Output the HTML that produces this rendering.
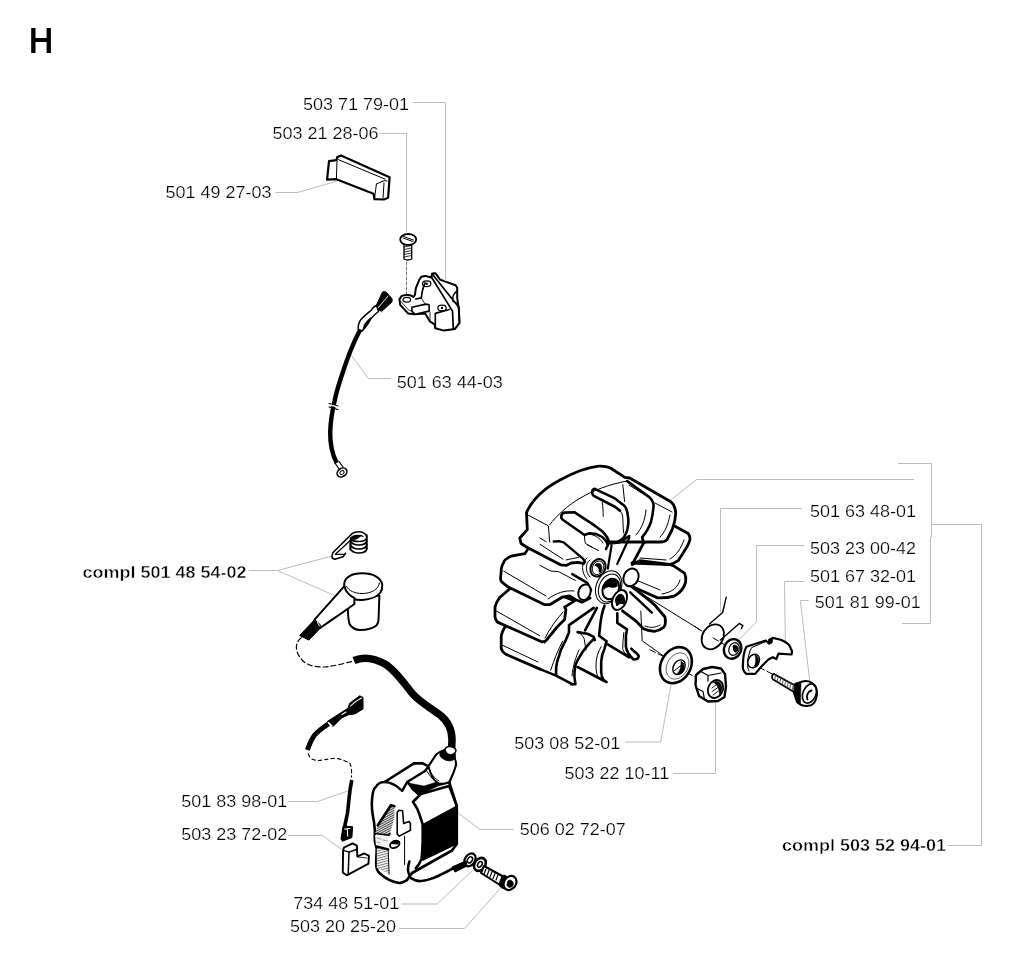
<!DOCTYPE html>
<html><head><meta charset="utf-8">
<style>
html,body{margin:0;padding:0;background:#fff;width:1024px;height:965px;overflow:hidden}
svg{position:absolute;left:0;top:0;will-change:transform}
text{font-family:"Liberation Sans",sans-serif;font-size:18px;fill:#000;stroke:#fff;stroke-width:0.25px}
.b{font-weight:bold;stroke-width:0.45px}
.ld{fill:none;stroke:#bcbcbc;stroke-width:1}
.k{fill:none;stroke:#000;stroke-width:2;stroke-linejoin:round;stroke-linecap:round}
.t{fill:none;stroke:#000;stroke-width:1;stroke-linejoin:round;stroke-linecap:round}
.f{fill:#000;stroke:#000;stroke-width:1;stroke-linejoin:round}
.w{fill:#fff;stroke:#000;stroke-width:2;stroke-linejoin:round}
</style></head><body>
<svg width="1024" height="965" viewBox="0 0 1024 965">
<defs>
<pattern id="hatch" patternUnits="userSpaceOnUse" width="2" height="2" patternTransform="rotate(62)"><rect width="2" height="2" fill="#fff"/><rect width="1.1" height="2" fill="#444"/></pattern>
<pattern id="hatch2" patternUnits="userSpaceOnUse" width="2.4" height="2.4" patternTransform="rotate(75)"><rect width="2.4" height="2.4" fill="#fff"/><rect width="1" height="2.4" fill="#777"/></pattern>
</defs>
<path d="M31.2,28.1 h4.3 v9.9 h11.1 v-9.9 h4.3 v25 h-4.3 v-11 h-11.1 v11 h-4.3 Z" fill="#000"/>
<g id="labels">
<text x="303.0" y="117.34" transform="scale(1,0.94)">503 71 79-01</text>
<text x="272.5" y="147.55" transform="scale(1,0.94)">503 21 28-06</text>
<text x="165.4" y="210.96" transform="scale(1,0.94)">501 49 27-03</text>
<text x="396.8" y="412.34" transform="scale(1,0.94)">501 63 44-03</text>
<text x="82.5" y="615.32" transform="scale(1,0.94)" class="b">compl 501 48 54-02</text>
<text x="810.0" y="549.89" transform="scale(1,0.94)">501 63 48-01</text>
<text x="810.0" y="588.94" transform="scale(1,0.94)">503 23 00-42</text>
<text x="810.0" y="618.83" transform="scale(1,0.94)">501 67 32-01</text>
<text x="814.8" y="647.13" transform="scale(1,0.94)">501 81 99-01</text>
<text x="514.3" y="796.81" transform="scale(1,0.94)">503 08 52-01</text>
<text x="564.6" y="829.04" transform="scale(1,0.94)">503 22 10-11</text>
<text x="519.7" y="888.09" transform="scale(1,0.94)">506 02 72-07</text>
<text x="181.3" y="858.51" transform="scale(1,0.94)">501 83 98-01</text>
<text x="181.3" y="894.15" transform="scale(1,0.94)">503 23 72-02</text>
<text x="293.3" y="967.34" transform="scale(1,0.94)">734 48 51-01</text>
<text x="289.9" y="991.28" transform="scale(1,0.94)">503 20 25-20</text>
<text x="782.0" y="905.74" transform="scale(1,0.94)" class="b">compl 503 52 94-01</text>
</g>
<g id="leaders" class="ld">
<polyline points="413.3,102.5 445.5,102.5 445.5,280"/>
<polyline points="379.5,133.5 406.5,133.5 406.5,232"/>
<polyline points="275.5,192.5 297.5,192.5 337.5,181"/>
<polyline points="391,378.5 368.5,378.5 351.5,355.5"/>
<polyline points="248.5,570.5 277.5,570.5 332,556"/>
<polyline points="277.5,570.5 334.5,595.5"/>
<polyline points="898,463.5 931.5,463.5 931.5,537"/><polyline points="930.5,537 930.5,623.5 902,623.5"/>
<polyline points="931,524.5 981.5,524.5 981.5,845.5 947.5,845.5"/>
<polyline points="670.8,500 696.5,479.5 914,479.5"/>
<polyline points="801.7,508.5 720.5,508.5 720.5,612.5"/>
<polyline points="804.5,545.5 756.5,545.5 756.5,621.6 739.6,639.2"/>
<polyline points="804.5,581.5 784.5,581.5 785.3,641"/>
<polyline points="808.7,600.5 800.3,600.5 810,683.2"/>
<polyline points="625,742 660.6,742 672,679.6"/>
<polyline points="672.9,773.5 715.5,773.5 715.5,700.7"/>
<polyline points="513.4,829.5 480,829.5 458.2,813"/>
<polyline points="288.2,801.5 317.4,801.5 348.1,791"/>
<polyline points="288,835.5 322.3,835.5 342.9,850.3"/>
<polyline points="401.1,904 437.2,904 473.2,869.8"/>
<polyline points="399.5,928.5 464.6,928.5 500.6,888"/>
</g>

<g id="clip">
<path class="w" style="stroke-width:2.2" d="M337.3,157 L341,155.5 L389.6,177.2 L388.1,197.7 L384,199.5 L374.5,199.2 L373.5,193.8 L336.4,179.2 L327.1,179.7 L329,161.1 L336.4,160.1 Z"/>
<path class="t" d="M338.3,159.6 L385.2,179.2 M337,161 L336.4,179 M376.4,184.1 L384.2,180.6 L387,181 M374.5,199 L376.4,184.1 M384,183 L383,198"/>
</g>
<g id="screw">
<line class="t" x1="406.5" y1="262" x2="406.5" y2="296" style="stroke:#555;stroke-dasharray:3,2;stroke-width:0.8"/>
<path class="t" style="stroke-width:1.3" d="M404,244 L404,259 Q407.5,261 411.7,259 L411.7,244"/>
<path class="t" style="stroke-width:0.8" d="M404.3,247 L411.5,245.5 M404.3,249.5 L411.5,248 M404.3,252 L411.5,250.5 M404.3,254.5 L411.5,253 M404.3,257 L411.5,255.5"/>
<ellipse class="w" style="stroke-width:1.8" cx="408.2" cy="239.5" rx="8" ry="5.5"/>
<path class="t" d="M403,238 L413,241.5 M403.5,236.5 L413.5,240"/>
</g>
<g id="module">
<path class="w" style="stroke-width:2" d="M399.4,299.4 L401.7,295.9 L406.4,294.7 L411.1,295.5 L413.4,297 L415,294.7 L415.8,288.4 L418.9,280.6 L421.3,276.7 L425.2,275.9 L431.4,277.5 L432.2,273.6 L435.3,273.2 L440,279.5 L444.7,281.4 L455.6,285.3 L457.2,287.7 L457.2,297.8 L458.8,308.8 L459.5,322.8 L454.8,329.1 L443.9,330.6 L435.3,328.3 L434.5,324.4 L429.8,321.3 L425.2,313.4 L414.2,314.2 L408,313.4 L400.2,304.8 Z"/>
<path class="t" style="stroke-width:1.7" d="M432.2,274 L458.8,307.2 L459.5,322.8 M431.4,277 L452.5,311.1 L453.3,328.5 M435.3,313.4 L449.4,309.5 M435.3,313.4 L435.3,328.3 M415.8,299 L421.3,297.8 C422,292 422.5,288 425,283 M457.2,291 C454,293 452,297 453,301 L456,303"/>
<path class="t" style="stroke-width:0.8" d="M421.3,297.8 L430,312 L430,321 M400.5,301 L408.5,310 L414.2,312"/>
<path class="w" style="stroke-width:1.6" d="M411.9,307.2 L425.9,304.1 L429.1,304.8 L429.1,311.1 L415,314.2 L411.9,311.1 Z"/>
<ellipse class="t" cx="406.8" cy="299.8" rx="3.8" ry="2.4" style="stroke-width:1.2"/>
<ellipse class="t" cx="426.7" cy="283.75" rx="4.2" ry="2.8" style="stroke-width:1.2"/>
<ellipse class="t" cx="442" cy="308" rx="4.2" ry="2.8" style="stroke-width:1.2"/>
<circle cx="426.7" cy="283.75" r="1.2" fill="#000"/><circle cx="442" cy="308" r="1.2" fill="#000"/>
</g>
<g id="wire1">
<path class="f" d="M382.5,292 C384,291 385.5,291.5 387,293 L391.8,298.5 C392.5,300 392.3,301.5 391.5,302.5 L381.8,311.3 L377.5,309.5 L376,306 Z"/>
<path class="w" style="stroke-width:1.5" d="M376.5,305.5 C374.5,306 372.5,308 371.5,310 C368,313 364,316 361,319.5 C359,322 358,325 358.2,329.3 L362.2,331 C365,328 367.5,325 369,322 C371,318 374,315 378.5,311.5 Z"/>
<path class="f" style="stroke-width:0.5" d="M371.5,317 C370,320 369,324 362.5,331 L364,325 C366,322 368,319 371.5,317 Z"/>
<path class="t" style="stroke:#fff;stroke-width:0.9" d="M378,308 L388,296"/>
<path class="k" style="stroke-width:4.4;stroke-linecap:butt" d="M360,330 C352,345 345,365 340.8,378.5 C337,390 335.5,396 334.6,401 C332,412 330.5,422 330.2,432 C330,445 332,454 336.7,463"/>
<path class="t" style="stroke-width:1.1" d="M329,403.5 L338,406 M329,407 L338,409.5"/>
<path class="t" style="stroke:#fff;stroke-width:1.2" d="M331,405.2 L337,406.9"/>
<ellipse class="w" style="stroke-width:1.6" cx="342" cy="472.5" rx="5.3" ry="4" transform="rotate(-35 342 472.5)"/>
<ellipse class="t" cx="342" cy="472.5" rx="2.3" ry="1.6" transform="rotate(-35 342 472.5)"/>
<path class="t" style="stroke-width:1.2" d="M335,463 L339,469 M339,461.5 L343,467"/>
</g>

<g id="spring">
<g class="t" style="stroke-width:1.7">
<path d="M350.5,544 C350.5,548 356,549 358.5,549 C363,549 366.8,548 366.8,544"/>
<path d="M350.3,548 C350.5,552 356,553 358.5,553 C363,553 366.8,552 366.8,548"/>
<path d="M350.5,540 C350.5,544 356,545 358.5,545 C363,545 366.8,544 366.8,540"/>
<path d="M350.3,540 L350.3,549.5 M366.8,535 L366.8,549"/>
</g>
<path class="f" style="stroke-width:0.5" d="M351,537 C353,535 358,535 361,536 L357,539 L352,540 Z"/>
<path class="t" style="stroke-width:1.6" d="M350.5,538 C351,541 356,541.5 359,541.5 C363,541.5 366.5,540 366.8,537 C366.5,533.5 362,531.8 359.2,531.8 C355,531.8 352.5,533 350.9,534.8 L332.8,552.8 C332,555 332,557 332.3,558.2 L334.8,559.2 L343.1,556.7 L345.5,553.3"/>
<path class="t" style="stroke-width:1.2" d="M354.3,536.7 C357,535 361,535 363,536.5 M354.3,536.7 L335.3,554.3 L344,554.3"/>
</g>
<g id="cap">
<path class="w" style="stroke-width:2" d="M347.5,598 L347.9,609.5 C348,616 348.5,621 349.7,624.4 C352,628 356,630 360,630 C367,630 373,628.5 376.6,625.3 C378,623.5 378.5,622.5 378.5,620 L379.4,595.6 Z"/>
<path class="w" style="stroke-width:2" d="M344.2,584 C344.5,577 352,573.3 362.3,573.3 C373,573.3 381,577.5 382.2,584.5 C382.5,587 382,590 380.5,592.5 C377,597 370,599.5 362.3,600 C356,600.2 351,598.5 349,596.5 L347.5,595 C345,592 344.2,588 344.2,584 Z"/>
<path class="t" style="stroke-width:1" d="M346.5,586.5 C349,591 355,593.5 362,593.5 C371,593.5 378,590 379.5,583"/>
<path class="w" style="stroke-width:2" d="M314.5,619.7 L344.2,586.3 C346,592 350,596 354.4,598 L354.4,604 C345,611 333,619 320,628.1 Z"/>
<path class="f" d="M314.5,619.7 L320,624.4 L321,627.5 L308.9,640.1 L299.6,635.5 Z"/>
<path class="t" style="stroke:#fff;stroke-width:1" d="M317.5,622.5 L319.5,626"/>
<path class="t" style="stroke-width:1.2;stroke-dasharray:5,3" d="M301.3,637.7 C295,642 294,652 303,661 C310,667 318,667 325,667 C335,666 345,663 354.4,660.9"/>
<path class="k" style="stroke-width:7.5;stroke-linecap:butt" d="M354,660.5 C362,657 372,657 385,664 C395,670 403,682 412.5,693.7 C420,702 432,709 440,715 C449,722 452,730 452,740 L451.5,752"/>
</g>

<g id="conn2">
<path class="k" style="stroke-width:5;stroke-linecap:butt" d="M307.4,750 C309.5,744 311.5,739 314.9,734.8 C318.5,730.5 323,727.5 328.5,723.8"/>
<path class="f" d="M327.3,721.5 L341.4,712.4 L348,708.2 L349.7,703.2 L359.7,695.8 L363,697.4 L363,709 L354.7,714 L348,714.9 L341.4,718.2 L333.1,726.5 Z"/>
<path class="t" style="stroke:#fff;stroke-width:1.1" d="M328.5,722.5 L332,726 M350.5,706 C354,702 357.5,700 361.5,698 M342,714.5 L346,712"/>
<path class="t" style="stroke-width:1.1;stroke-dasharray:3.5,3" d="M308.2,753.8 C309,756 310,757.5 311.6,758.8 C314,760 316.5,760.5 319,760.5 C323,760 328,759 334.8,758.3 C340,758.5 346,761 349.8,763.3 C351.5,766 351.8,771 351.4,777"/>
<path class="k" style="stroke-width:3.6;stroke-linecap:butt" d="M351.8,780 C350.5,786 349.5,793 348.9,799.8 C348.3,806 347.8,811 347.3,814 C346.5,818 345.5,822 344.8,826"/>
<path class="f" d="M343.1,826 L352.6,826.7 L351.9,837.6 L342.4,841.2 L341,839 Z"/>
<path class="t" style="stroke:#fff;stroke-width:1.1" d="M344.6,829 L349.7,828.5 M347.3,829 L347.7,836"/>
</g>
<g id="lpiece">
<path class="w" style="stroke-width:1.9" d="M343.9,847.7 L352.6,843.4 L356.9,845.6 L357.3,856.4 L364.2,853.5 L368.9,855.7 L368.5,863.7 L346.8,875.3 L342.8,872.4 L343.1,850.6 Z"/>
<path class="t" style="stroke-width:1.5" d="M343.9,850.6 L349,852.1 L356.9,849.2 M349,852.1 L348.2,873.9"/>
<path class="t" style="stroke-width:0.8" d="M357.5,857 L367,858"/>
</g>
<g id="coil">
<path class="w" style="stroke-width:2.6" d="M374,822 C372,812 371.5,805 372,800.5 C372.5,792 374,788 375.9,786.9 C378,783 381,782 384.6,782 L414,763.4 L422.7,763.4 L428.6,766.4 L436.4,754.6 L444.2,750.7 L454,756.6 L455.9,764.4 L453,773.2 L449.1,782 L456.8,805.9 L456.8,844 L452,850.5 L412,873 L407,880.1 C404,882 401,883 399.2,883 C392,882 386,879 379.6,873.2 C376,870 376,866 376.2,862 L376.7,848.8 L374.8,841 L374.8,830 Z"/>
<path class="t" style="stroke-width:2.4" d="M384.6,782 C388,782 391,783 393.4,784.4 C397,786 400,789 402.2,790.8 L407.1,782 L424.7,771.3 L428.6,766.4"/>
<path class="f" style="stroke-width:0.5" d="M408.1,783 L412,790 L418.8,794.7 L438.4,785.9 L450.1,783 L453.5,772 L447,776 L440,781 L424,786 Z"/>
<path class="t" style="stroke-width:2.6" d="M408.1,783 L418.8,794.7 M412.9,802 C415,805 417,808 417.7,809.8 C420,816 422,822 422.6,824.4 C423,840 422.5,850 421.6,858.6 C420,863 418,866 415.8,868.4 M412.9,802 L420.8,794 L449.1,785.9 L456.8,805.9"/>
<path class="f" d="M422.6,824.4 L456.8,805.9 L456.8,844 L422.6,860.5 Z"/>
<path class="t" style="stroke-width:1.6" d="M412,873 L452,850.5"/>
<path d="M377.7,825.5 L390.9,805.3 L394.4,806.2 L394.4,817.6 L390,833.5 L389.1,835.2 L375,833.5 Z" fill="url(#hatch)" stroke="none"/><path class="t" style="stroke-width:2.6" d="M377.7,825.5 L390.9,805.3 L394.4,806.2"/><path class="t" style="stroke-width:1.6" d="M375,833.5 L389.1,835.2 L390,833.5"/>
<path d="M375,835 L389,836.5 L388.2,849.3 L375.9,845.8 Z" fill="#f2f2f2" stroke="none"/><path class="t" style="stroke-width:0.7;stroke:#777" d="M377,838 L381,839 M383,840 L387,841 M377,842 L380,843"/><path d="M376.8,847.5 L388.2,849.3 L389.1,874 L376.8,867.8 Z" fill="url(#hatch2)" stroke="none"/><path class="t" style="stroke-width:2.4" d="M376.3,846.5 L388.2,849.3"/><path class="t" style="stroke-width:1" d="M388.2,849.3 L389.1,874"/>
<path class="w" style="stroke-width:1.6" d="M397.2,812.7 L398.7,810.3 L402.6,810.7 L403.6,823.4 L408.9,821.5 L410.4,823.4 L410.4,830.3 L399.2,836.1 L397.2,834.2 Z"/>
<ellipse class="w" style="stroke-width:1.8" cx="394.8" cy="844.4" rx="5" ry="3.3" transform="rotate(-25 394.8 844.4)"/>
<path class="f" d="M390.5,843.5 C392,840.5 397,839.5 399.5,841.5 L398,844 Z"/>
<path class="t" d="M404.6,836.1 L404.6,864.5"/>
<path class="w" style="stroke-width:1.8" d="M428.6,766.4 L436.4,754.6 C440,751 444,750 447,751 C452,753 455.9,758 455.9,764.4 C455,770 452,776 449.1,782 C444,784 440,784 438,783 C433,780 430,773 428.6,766.4 Z"/>
<path class="t" d="M426,770 C430,776 434,781 437,783 M428,767 C431,774 435,779 439,781"/>
<path class="f" d="M440,752 C444,748 452,749 455,753 C456,756 455,759 453,760 C449,762 443,760 440,756 Z"/>
<path class="w" style="stroke-width:1.5" d="M445,749 C447,745 454,746 456,750 C456,753 453,755 450,755 C447,754 445,752 445,749 Z"/>
<path class="k" style="stroke-width:2.6" d="M409.4,861.5 C408,865 408,868 408,870.3 C409,875 410,878 410.9,878.1 C414,880 417,881 419.7,881.1 C425,881 430,879 433.4,878.1 C440,875 447,872 452.9,868.4 L462.7,863.5"/>
</g>
<g id="bolt">
<ellipse class="w" style="stroke-width:2.2" cx="469.9" cy="859.9" rx="5" ry="7" transform="rotate(35 469.9 859.9)"/>
<ellipse class="t" style="stroke-width:1.5" cx="469.9" cy="859.9" rx="2.3" ry="3.3" transform="rotate(35 469.9 859.9)"/>
<path class="f" d="M452,867 L466,861 L467,866 L455,872 Z"/>
<ellipse class="w" style="stroke-width:2.6" cx="479.9" cy="864.4" rx="5.3" ry="7" transform="rotate(35 479.9 864.4)"/>
<ellipse class="t" style="stroke-width:1.5" cx="479.9" cy="864.4" rx="2" ry="3" transform="rotate(35 479.9 864.4)"/>
<path class="w" style="stroke-width:2" d="M484,866 L504,877 L500,885 L481,873 Z"/>
<path class="t" style="stroke-width:1.2" d="M486,869 L484,874 M489,870.5 L487,875.5 M492,872 L490,877 M495,873.5 L493,878.5 M498,875 L496,880"/>
<path class="f" d="M502,876 C504,874 508,876 509,880 L506,889 C503,889 499,887 499,884 Z"/>
<ellipse class="w" style="stroke-width:2.2" cx="510" cy="883" rx="6" ry="7.5" transform="rotate(35 510 883)"/>
<path class="f" d="M508,881 C510,879 514,881 513,885 C512,888 508,888 507,885 Z"/>
</g>

<g id="flywheel">
<!-- claws (back) -->
<path fill="#fff" stroke="none" d="M540,669 L556,675.6 L572,684.2 L604.5,681 L606.6,682 L628,657 L638,658 L625,612 L600,600 L565,606 L542,641 Z"/>
<path class="t" style="stroke-width:2.6" d="M564.7,606.8 L565.8,611.1 L564.7,613.3 C560,618 558,621 556.1,625.1 C552,630 549,633 546.4,635.8 C544,638 542.5,640 542.1,641.2 L544.3,642.3"/>
<path class="t" style="stroke-width:1" d="M563.6,613.3 C556,622 549,630 542.1,638.5"/>
<path class="t" style="stroke-width:2.6" d="M593.7,607.9 L569,625.1 L569,632.6 L565.8,640.1 C562,647 560,651 559.3,655.2 C557,661 556,666 556.1,670.2 L556.1,674.5"/>
<path class="t" style="stroke-width:1" d="M562.6,641.2 C558,650 554,660 550.7,670.2"/>
<path class="t" style="stroke-width:2.6" d="M577.6,632.1 L587.3,633.7 L593.7,636.9 L594.8,640.1 L593.7,639 L589.4,643.3 C586,647 584,650 581.9,653 C579,658 576,662 575.4,665.9 C574.5,670 574.3,673 574.4,676.6 L575.4,684.2 L571.2,684.2"/>
<path class="t" style="stroke-width:1" d="M580,633 L584,638 L586,650 M579,650 C576,657 573,665 572,676"/>
<path class="t" style="stroke-width:2.6" d="M540,669.1 L556.1,675.6 L572.2,684.2 M596.9,607.9 L585.1,630.4"/>
<path class="t" style="stroke-width:2.6" d="M604.5,605.7 C602,612 601,618 600.2,625.1 L599.1,635.8 L606.6,641.2 L604.5,648.7 C602,654 601.5,657 601.2,661.6 L601.2,672.3 C601.5,676 602,678 603.4,679.9 L606.6,682 L604.5,681 M577.6,667 L604.5,681"/>
<path class="t" style="stroke-width:1" d="M601.2,646.6 C598,652 596,658 596,665 C596,670 596.5,674 597.9,676.6"/>
<path class="t" style="stroke-width:2.6" d="M617.3,613.3 L617.3,622.9 L627,629.4 L625.9,635.8 L625.9,646.6 C626.5,650 627,651 628.1,653 C630,656 632,658 633.5,659.5 C635,659.5 637,659 637.8,658.4 L638.8,656.2 C637,653 635,652 633.5,650.9 L631.3,648.7 M607.7,644.4 L629.2,657.3"/>
<path class="t" style="stroke-width:1" d="M623.8,632.6 C623,638 623,643 622.7,648.7 C623.5,652 625,654 628,655.2"/>
<!-- right fin 4 long -->
<path fill="#fff" d="M618,586 L635.4,591 C645,598 652,604 657,611.2 L665,619.3 C666,623 665,626 663.7,627.3 C660,630 657,631 654.3,631.4 C650,631 646,630 643.5,628.7 L635.4,620.6 L624.6,611.2 L614,604 Z"/><path class="t" style="stroke-width:2.8" d="M631.3,586.4 C640,593 648,599 654.7,605 L665,617 C666,623 665,626 663.7,627.3 C660,630 657,631 654.3,631.4 C650,631 646,630 643.5,628.7 L635.4,620.6 L622.5,610.8"/><path class="t" style="stroke-width:2.4" d="M630.3,592.3 L651.8,612.7"/>
<path class="t" style="stroke-width:1" d="M660,625 C655,628 650,628 645,626 M640.8,611.2 L642.2,640.8 L665,657"/>
<!-- right fin 3 -->
<path fill="#fff" d="M625,566 L669.5,564.5 L673.3,565.7 L684.5,573.2 C686,576 686,579 685.7,582 C684,588 680,593 674.7,595.8 C668,598 662,598 657.6,597.9 L633.9,587.2 L622,584 Z"/><path class="t" style="stroke-width:2.8" d="M632,563 L669.5,564.5 L673.3,565.7 L684.5,573.2 C686,576 686,579 685.7,582 C684,588 680,593 674.7,595.8 C668,598 662,598 657.6,597.9 L633.9,587.2"/>
<path class="t" style="stroke-width:1" d="M680,580 C678,587 673,592 662,594 M636,580 L660,590"/>
<!-- right fin 2 -->
<path class="w" style="stroke-width:2.8" d="M655,530 L674.5,525.9 L688.2,533.4 C690,536 690,538 690,539.6 C689,543 688,545 686.9,547 L678.2,560.7 C675,563 672,564 669.5,564.5 L639.7,560.7 L632.2,564.5 L643.4,543.3 L660,530 Z"/>
<path class="t" style="stroke-width:1" d="M684,540 C681,548 677,555 670,559 M640,558 L666,560"/>
<!-- left fin L4 -->
<path fill="#fff" d="M510,622 L504.9,627 C502,632 501,636 501.2,638.2 L501.2,648.2 C502,652 504,653 506.2,654.4 L540,669.1 L544.3,642.3 L552,630 L540,622 Z"/><path class="t" style="stroke-width:2.8" d="M540,669.1 L506.2,654.4 C504,653 502,652 501.2,648.2 L501.2,638.2 C501,636 502,632 504.9,627 L510,622"/>
<path class="t" style="stroke-width:1" d="M502,645 L538,662"/>
<!-- left fin L3 -->
<path class="w" style="stroke-width:2.8" d="M515,585 L508.7,589.7 L500,597.2 C497,601 495.5,605 495,607.1 L495,617.1 C495.5,620 496.5,621 497.5,622.1 L542.2,642 L546,640.7 L557.1,627 L564.6,619.6 L565.9,609.6 L564.6,607.1 L574.6,600.9 L560,595 Z"/>
<path class="t" style="stroke-width:1" d="M496.2,610.9 L539.7,635.7 M545,638 C550,628 556,620 563,612"/>
<!-- left fin L2 -->
<path fill="#fff" d="M535,545 L527.3,550 L524.8,553.7 L511.1,556.2 C507,558 504,560 503.7,562.4 C501,567 501,571 501.2,571.1 L500.6,577.3 C500.5,580 501.5,582 502.4,582.3 C505,585 507,586 508.7,587.3 L544.7,604.7 L549.7,604.7 L562.1,597.2 L569.6,596 L575.8,599.7 L582,602.2 L590,598 L592,585 L570,570 Z"/><path class="t" style="stroke-width:2.8" d="M527.3,550 L524.8,553.7 L511.1,556.2 C507,558 504,560 503.7,562.4 C501,567 501,571 501.2,571.1 L500.6,577.3 C500.5,580 501.5,582 502.4,582.3 C505,585 507,586 508.7,587.3 L544.7,604.7 L549.7,604.7 L562.1,597.2 L569.6,596 L575.8,599.7 L582,602.2 L590,598"/><path class="t" style="stroke-width:2.6" d="M572.3,574.2 L587.3,582.9 L591,590"/><path class="t" style="stroke-width:1" d="M540,565.4 L550.6,571 L558.7,571.7 L575.4,580.4"/>
<path class="t" style="stroke-width:1" d="M503.7,571.1 L546,596 M548,599 C556,593 565,590 574,591"/>
<ellipse class="w" style="stroke-width:2" cx="584.5" cy="592.2" rx="6" ry="8" transform="rotate(20 584.5 592.2)"/>
<!-- cap (top) -->
<path fill="#fff" d="M526.5,512.6 C532,500 545,488 560,480 C575,472 590,467 598.7,466.2 C605,466 609,467 612,469 L624.8,477.4 L629.7,478 L669.5,501 C673,503 675.5,508 675.7,513.5 C675.5,520 674,525 672,530 L667,539.6 C665,542 663,542 660,542 L632,542 L611.1,542 L606,549 L599,550 L592,556 L584.5,563.8 L569.6,563.2 L562.1,565.1 L527.3,547.5 L521,543.5 L519.8,538 L527.3,529.6 Z"/><path class="t" style="stroke-width:2.8" d="M584.8,561.7 L583.5,563.6 L578.6,562.3 L571.1,563 L566.1,565.4 L560.5,564.8 L527.3,547.5 L521,543.5 L519.8,538 L527.3,529.6 L526.5,512.6 C532,500 545,488 560,480 C575,472 590,467 598.7,466.2 C605,466 609,467 612,469 L624.8,477.4 L629.7,478 L669.5,501 C673,503 675.5,508 675.7,513.5 C675.5,520 674,525 672,530 L667,539.6 C665,542 663,542 660,542 L632,542 L611.1,542"/>
<path class="t" style="stroke-width:1" d="M527.3,514.7 L548.4,525.9 L549.7,542.1 M549.7,524.7 C565,505 590,488 627,481"/>
<path class="t" style="stroke-width:2.6" d="M627.2,481.1 L649.6,497.3 C653,501 654,505 653.4,507.3 C653,514 652,518 650.9,522.2 C648,530 645,534 642.2,537.1 L643.4,542.1"/>
<path class="t" style="stroke-width:1" d="M622.8,484.7 L624.6,501.5"/>
<path class="t" style="stroke-width:1" d="M629,485 L651,499 M655,503 L672,512 M646,510 C645,520 642,528 636,535 M670,515 C668,525 665,532 660,537"/>
<path class="t" style="stroke-width:2.6" d="M594.8,488.9 C591.5,489.5 591.5,494 593.8,495.9 L615.3,507 L620,510.8 M594.8,488.9 L615.3,498.7 L624.6,506.1 C626,508 627,510 627.4,512.6 C628,516 628.4,519 628.4,522 C628,527 627.5,530 626.5,532.2 C625.5,534.5 624.5,536 623.7,537.8 C621,540 619,541.5 617.2,542 L611.6,542.5"/>
<path class="t" style="stroke-width:1" d="M620,510.8 C622,513 622.8,515.4 622.8,518 C623,522 623,527 623.7,533 M602.2,502.4 C603,507 603.2,511 603.2,516.4"/>

<path class="t" style="stroke-width:2.6" d="M564.9,512.6 C561,513 560.5,517.5 562.1,519.2 L584.5,535 L589.2,533.2 L596.6,534.1 C600,535.5 603,537.5 605,539.7 C606.5,541.5 607.5,543.5 607.8,545.3 L606,549 M564.9,512.6 L574.3,512.2 L594.8,525.7 L602.2,531.3 C604,533 605.5,535 606.9,536.9 C608,539 609,541 609.7,543.4 L619,542.5 L626.5,537.8 L629.3,536"/>
<path class="t" style="stroke-width:1" d="M584.5,536 C584.5,539 585,541.5 585.4,543.4 L592,547 M589,534 C595,535 600,538 603,543"/>


<path class="t" style="stroke-width:2.4" d="M553.7,541.5 L558.7,541.2 L563.6,542.4 L582.9,558.6 L584.8,561.7"/><path class="t" style="stroke-width:1" d="M540,544.3 L563,559.2 M566.1,559.9 L578.6,557.4 M587.3,544.9 L598.5,550.5 M540,538 L546.2,541.8"/>
<!-- spoke lines -->
<path class="t" style="stroke-width:2.2" d="M611.6,545.3 L607.8,568.6 M629.3,537.8 L617.2,564"/>
<path class="t" style="stroke-width:1" d="M639.5,592.3 L702,631"/>
<!-- hub -->
<ellipse class="w" style="stroke-width:2" cx="598" cy="567.8" rx="7.3" ry="9" transform="rotate(25 598 567.8)"/>
<ellipse class="t" style="stroke-width:0.9" cx="598" cy="567.8" rx="5.5" ry="7" transform="rotate(25 598 567.8)"/>
<path class="f" style="stroke-width:0.5" d="M594.8,565.5 C595.5,563 599,562.5 601,564.5 C602.5,567 602,570.5 600.5,572.5 C599.5,572.8 599,572 598.8,571 C599.5,568.5 598,566.5 594.8,565.5 Z"/>
<path class="t" d="M590,560 C585,563 585,572 590,577 M587,558 C581,562 581,573 587,579"/>
<ellipse class="w" style="stroke-width:2" cx="631" cy="577.4" rx="7.3" ry="9.2" transform="rotate(25 631 577.4)"/>
<ellipse class="w" style="stroke-width:1" cx="608.7" cy="587.2" rx="12.5" ry="17" transform="rotate(22 608.7 587.2)"/>
<ellipse class="t" style="stroke-width:1" cx="609.5" cy="588" rx="10.5" ry="14.5" transform="rotate(22 609.5 588)"/>
<ellipse class="t" style="stroke-width:2" cx="610.8" cy="589" rx="8" ry="10.5" transform="rotate(22 610.8 589)"/>
<path class="f" style="stroke-width:0.5" d="M604,585.5 C605,581.5 609,579.5 613.5,579.8 C616,580.5 617.5,583 617.5,586 C615.5,587.5 613,587.8 611,587.2 C608,586.5 605.5,587 604,589.5 Z"/>
<ellipse class="w" style="stroke-width:2" cx="619.5" cy="600" rx="6.8" ry="10.5" transform="rotate(25 619.5 600)"/>
<path class="f" d="M615.5,601 C615.5,596 619,593.5 622,594.5 C624.5,596 625,600 624,604 C622,603 619,603 617,606 Z"/>
</g>

<g id="smallparts">
<path class="t" style="stroke-width:1;stroke-dasharray:6,3" d="M713.1,637.9 L724,644.4 M695,626.3 L701.5,631.4 M759,667.3 L773,674.4 M650,649.8 L664,656.8 M686.9,672.6 L696.6,677.9"/>
<!-- circlip -->
<ellipse class="t" style="stroke-width:1.8" cx="712.8" cy="636.8" rx="10.3" ry="13.2" transform="rotate(32 712.8 636.8)"/>
<path class="t" style="stroke-width:1.4" d="M709.5,624.1 L722.6,612.5 L726.2,597.3 M720.4,640.1 L739.3,623.4 L742.9,625.6 L741.4,628.5"/>
<!-- small washer -->
<ellipse class="w" style="stroke-width:2.4" cx="732.6" cy="648.9" rx="8.5" ry="10" transform="rotate(25 732.6 648.9)"/>
<ellipse class="t" style="stroke-width:1.2" cx="734" cy="649" rx="5" ry="6.5" transform="rotate(25 734 649)"/>
<path class="f" d="M733,646 C735,644 738,646 738,649 C738,652 735,653 734,651 Z"/>
<!-- pawl -->
<path class="w" style="stroke-width:2.2" d="M746.4,646.7 L751.7,645 L765.8,640.5 L769,643.5 L769.3,639.7 L772.8,637.9 L780.7,639.7 C785,641.5 788,643 789.7,646 L792.1,651.5 L791.5,654.5 L778.5,653.7 L776.3,659 L772.8,657.2 L768.4,659.5 L761.4,666.5 L755.2,673.9 L746.4,673.9 C743.5,672 742.5,669 742.9,665 C743,658 744,651 746.4,646.7 Z"/>
<path class="t" style="stroke-width:1" d="M749.5,652 L751.7,647.5 L766,641.5 M749,671 C747,668 746.5,660 749.9,652"/>
<ellipse class="t" style="stroke-width:1.5" cx="753.6" cy="661" rx="5.5" ry="7" transform="rotate(30 753.6 661)"/>
<path class="f" style="stroke-width:0.5" d="M755,655 C758.5,656 759.5,661 758,665 C757,667 755.5,667 754.5,666 C756,663 756,658 755,655 Z"/>
<path class="f" d="M769.3,640 L772.5,638.5 L772,643 L769.5,644 Z"/>
<!-- screw -->
<path class="w" style="stroke-width:1.8" d="M773.7,673.9 L796.5,686.2 L794.8,692.4 L772.8,679.2 C771.5,678 771.8,674.5 773.7,673.9 Z"/>
<path class="t" style="stroke-width:0.9;stroke:#444" d="M776,675 L774.5,680 M778.5,676.3 L777,681.5 M781,677.7 L779.5,683 M783.5,679 L782,684.5 M786,680.4 L784.5,686 M788.5,681.8 L787,687.5 M791,683.2 L789.5,689 M793.5,684.6 L792,690.5"/>
<path class="w" style="stroke-width:2" d="M795,684 L802.5,681.5 C809,680 815,683 816.7,690 C818,697 815,704 810,705.6 C805,706.5 800,705 797,702 L794,693 Z"/>
<path class="f" style="stroke-width:0.5" d="M795,684.5 L801,682.5 L800.5,703.5 L796.5,701 L794.5,693 Z"/>
<ellipse class="t" style="stroke-width:1.6" cx="809.5" cy="693.5" rx="6.5" ry="10" transform="rotate(22 809.5 693.5)"/>
<path class="t" style="stroke-width:1.9" d="M811.5,690.5 C807.5,691.5 806,696 807.5,699.5"/>
<!-- big washer -->
<ellipse class="w" style="stroke-width:2.6" cx="675.9" cy="665.2" rx="14.8" ry="19" transform="rotate(30 675.9 665.2)"/>
<ellipse class="t" style="stroke-width:0.8;stroke:#555" cx="677.5" cy="666" rx="10.5" ry="14" transform="rotate(30 677.5 666)"/>
<ellipse class="t" style="stroke-width:1.4" cx="679" cy="667.2" rx="5.6" ry="7.8" transform="rotate(30 679 667.2)"/>
<path class="f" style="stroke-width:0.5" d="M681,661 C684.5,663 685,668 683,672 C681,674.5 678.5,675 677,674 C680,671 681.5,666 681,661 Z"/>
<path class="t" style="stroke-width:1" d="M674,671 L684,663"/>
<!-- nut -->
<path class="w" style="stroke-width:2.4" d="M696,675 L703,669 L712,667 L721,668.5 L725,674 L726,686 L724.5,697 L718,701 L708,701.5 L699,696 L695.5,685 Z"/>
<path class="t" style="stroke-width:1.2" d="M701,671.5 L708,675.5 L721,673 M708,675.5 L708,681 M696,688 L703,691.5 L704.5,699.5"/>
<ellipse class="t" style="stroke-width:1.8" cx="715.5" cy="689" rx="7.3" ry="9.3" transform="rotate(25 715.5 689)"/>
<path class="f" style="stroke-width:0.5" d="M713,682 C717,680 721,682 722,687 C722,690 721,693 719.5,695 C719.5,690 718,685 713,682 Z"/>
<path class="t" style="stroke-width:0.9" d="M712,688 L717,684 M712,691.5 L718,687.5 M713,695 L718.5,691"/>
</g>
</svg>
</body></html>
